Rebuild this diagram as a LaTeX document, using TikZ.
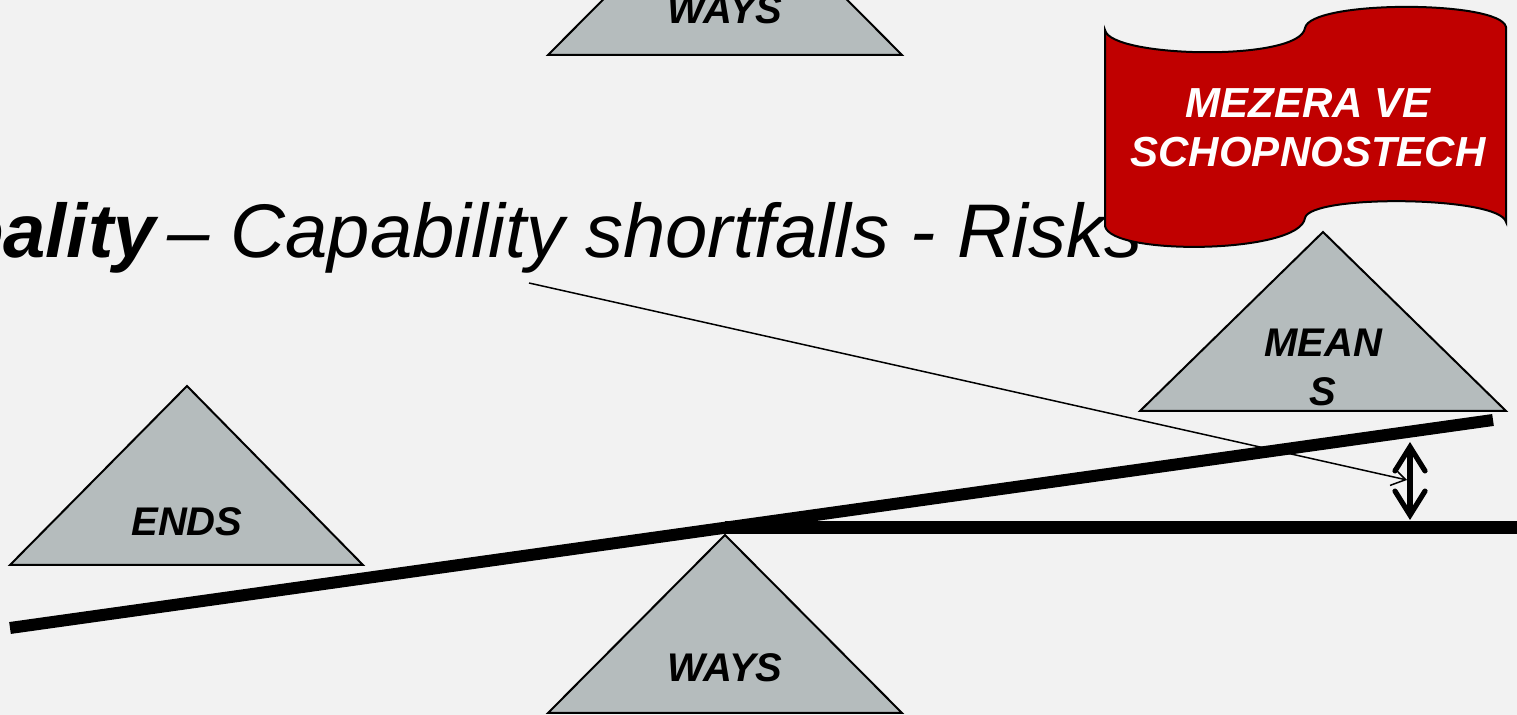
\documentclass[tikz,border=0pt]{standalone}
\usepackage{fontspec}
\setmainfont{Liberation Sans}
\usetikzlibrary{arrows.meta}
\definecolor{bgc}{HTML}{F2F2F2}
\definecolor{tri}{HTML}{B5BCBD}
\definecolor{flag}{HTML}{C00000}
\tikzset{
  tribox/.style={fill=tri,draw=black,line width=1pt,line join=miter},
  trilabel/.style={font=\fontsize{20}{24.5}\selectfont\bfseries\itshape,align=center,inner sep=0pt},
  beam/.style={line width=6pt,line cap=butt},
  barb/.tip={Straight Barb[length=12pt,width=15pt,line cap=round]},
}
\begin{document}
\begin{tikzpicture}[x=0.5pt,y=-0.5pt]
\useasboundingbox (0,0) rectangle (1517,715);
\fill[bgc] (0,0) rectangle (1517,715);
\begin{scope}
\clip (0,0) rectangle (1517,715);
% triangles
\draw[tribox] (548,55) -- (725,-123) -- (902,55) -- cycle;
\node[trilabel] (waystop) at (725,10) {WAYS};
\draw[tribox] (10,565) -- (187,386) -- (363,565) -- cycle;
\node[trilabel] (ends) at (187,522) {ENDS};
\draw[tribox] (1140,411) -- (1323,232) -- (1506,411) -- cycle;
\node[trilabel] (means) at (1323,367) {MEAN\\S};
\draw[tribox] (548,713) -- (725,535) -- (902,713) -- cycle;
\node[trilabel] (ways) at (725,668) {WAYS};
% title
\node[anchor=base west,inner sep=0pt,font=\fontsize{38}{46}\selectfont\itshape] (title) at (167,258) {– Capability shortfalls - Risks};
\node[anchor=base east,inner sep=0pt,font=\fontsize{38}{46}\selectfont\bfseries\itshape] (reality) at (156,258) {Reality};
\coordinate (from) at (529,283);
\coordinate (gap) at (1407,480);
\draw[line width=0.75pt,-{Straight Barb[length=7pt,width=9pt]}] (from) -- (gap);
% beams
\coordinate (bl) at (10,628);
\coordinate (br) at (1493,420);
\coordinate (pivot) at (725,528);
\coordinate (hr) at (1517,528);
\draw[beam] (bl) -- (br);
\draw[beam,line width=6.5pt] (pivot) -- (hr);
% double arrow
\coordinate (atop) at (1410,442);
\coordinate (abot) at (1410,520);
\draw[line width=2.6pt,barb-barb] (atop) -- (abot);
% banner
\draw[fill=flag,draw=black,line width=1pt]
  (1105,30) .. controls (1110,58) and (1300,62) .. (1305,28)
  .. controls (1310,0) and (1500,0) .. (1506,27)
  -- (1506,222)
  .. controls (1500,196) and (1310,194) .. (1305,218)
  .. controls (1300,254) and (1110,256) .. (1105,226) -- cycle;
\node[font=\fontsize{21}{24.5}\selectfont\bfseries\itshape,text=white,align=center,inner sep=0pt] (gaplabel) at (1308,128) {MEZERA VE\\SCHOPNOSTECH};
\end{scope}
\end{tikzpicture}
\end{document}
